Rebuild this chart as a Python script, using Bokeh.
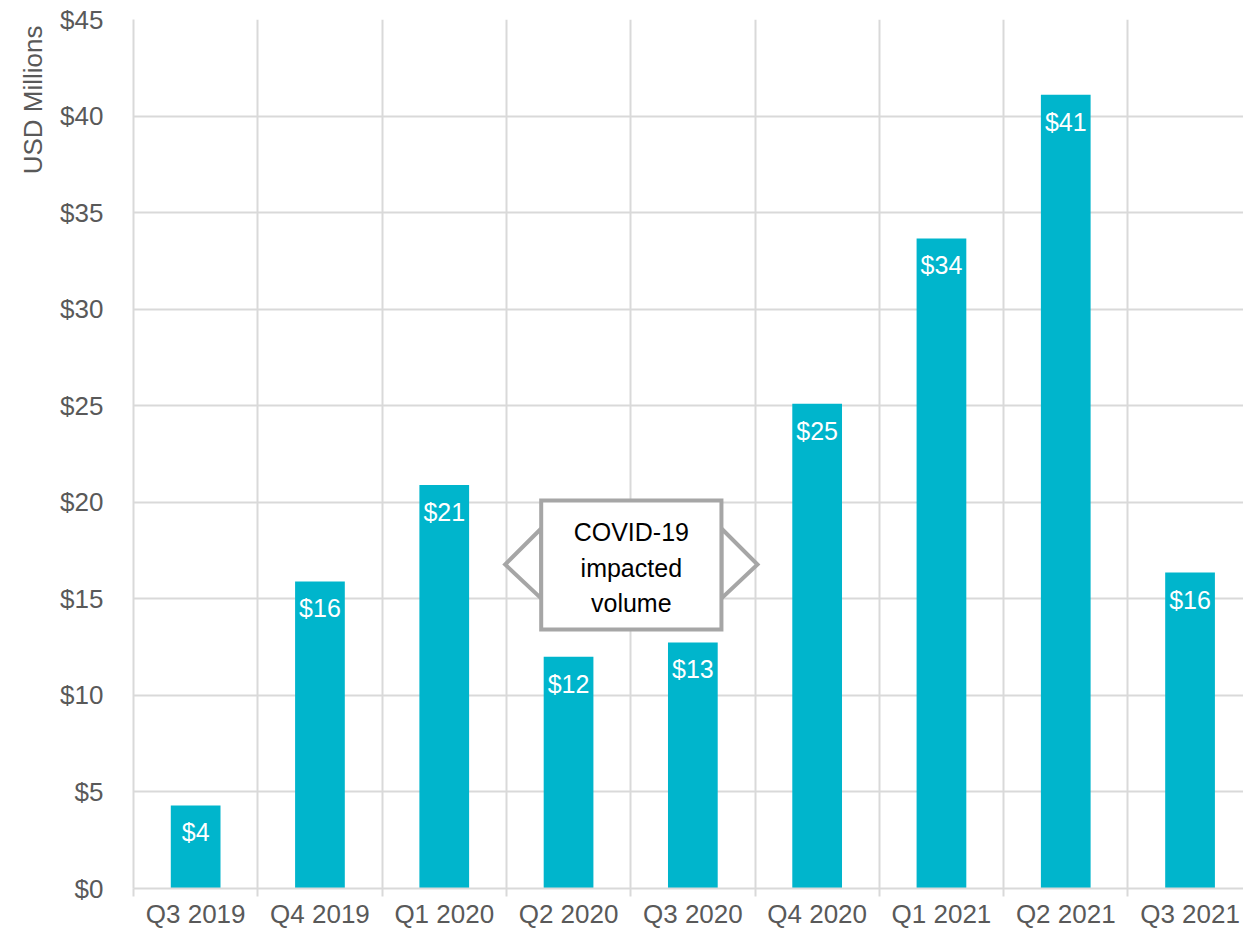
from bokeh.plotting import figure
from bokeh.models import Range1d, FixedTicker, NumeralTickFormatter, ColumnDataSource, Title
from bokeh.core.properties import value
from bokeh.embed import file_html
from bokeh.resources import INLINE

quarters = ["Q3 2019", "Q4 2019", "Q1 2020", "Q2 2020", "Q3 2020",
            "Q4 2020", "Q1 2021", "Q2 2021", "Q3 2021"]
volume = [4.3, 15.9, 20.9, 12.0, 12.74, 25.1, 33.66, 41.1, 16.36]
y_ticks = [0, 5, 10, 15, 20, 25, 30, 35, 40, 45]
callout_lines = ["COVID-19", "impacted", "volume"]

FONT = "Liberation Sans"
BAR = "#00B5CC"
GRID = "#D9D9D9"
TXT = "#595959"

xs = list(range(len(quarters)))
bounds = [i - 0.5 for i in range(len(quarters) + 1)]
labels = ["$" + str(int(round(v))) for v in volume]

p = figure(width=1243, height=931, output_backend="svg", toolbar_location=None,
           x_range=Range1d(-0.5, 8.43), y_range=Range1d(0, 45),
           min_border_left=133, min_border_right=0, min_border_top=19, min_border_bottom=43)
p.outline_line_color = None
p.background_fill_color = "white"
p.border_fill_color = "white"

src = ColumnDataSource(dict(x=xs, top=volume, lab=labels))
p.vbar(x="x", top="top", width=0.4, bottom=0, source=src, fill_color=BAR, line_color=None)
p.text(x="x", y="top", text="lab", source=src, text_align="center", text_baseline="middle",
       y_offset=27, text_color="white", text_font=value(FONT), text_font_size="25px")

# x axis
p.xaxis.ticker = FixedTicker(ticks=xs, minor_ticks=bounds)
p.xaxis.major_label_overrides = {i: q for i, q in enumerate(quarters)}
p.xaxis.major_tick_out = 0
p.xaxis.major_tick_in = 0
p.xaxis.minor_tick_out = 8
p.xaxis.minor_tick_in = 0
p.xaxis.minor_tick_line_color = GRID
p.xaxis.minor_tick_line_width = 2
p.xaxis.axis_line_color = GRID
p.xaxis.axis_line_width = 2
p.xaxis.major_label_standoff = 2
p.xaxis.major_label_text_font = FONT
p.xaxis.major_label_text_font_size = "26px"
p.xaxis.major_label_text_color = TXT

# y axis
p.yaxis.ticker = FixedTicker(ticks=y_ticks)
p.yaxis.formatter = NumeralTickFormatter(format="$0")
p.yaxis.major_tick_out = 0
p.yaxis.major_tick_in = 0
p.yaxis.minor_tick_out = 0
p.yaxis.minor_tick_in = 0
p.yaxis.axis_line_color = GRID
p.yaxis.axis_line_width = 2
p.yaxis.major_label_standoff = 30
p.yaxis.major_label_text_font = FONT
p.yaxis.major_label_text_font_size = "26px"
p.yaxis.major_label_text_color = TXT

p.xgrid.ticker = FixedTicker(ticks=bounds)
p.xgrid.grid_line_color = GRID
p.xgrid.grid_line_width = 2
p.ygrid.ticker = FixedTicker(ticks=y_ticks)
p.ygrid.grid_line_color = GRID
p.ygrid.grid_line_width = 2

p.add_layout(Title(text="USD Millions", align="right", text_font=FONT, text_font_size="26px",
                   text_font_style="normal", text_color=TXT, offset=6, standoff=20), "left")

# callout between Q2 and Q3 2020
bx0, bx1, by0, by1 = 2.78, 4.23, 13.41, 20.09
tip_l, tip_r, cy_top, cy_mid, cy_bot = 2.49, 4.52, 18.64, 16.78, 15.02
p.patches(xs=[[bx0, tip_l, bx0], [bx1, tip_r, bx1]],
          ys=[[cy_top, cy_mid, cy_bot], [cy_top, cy_mid, cy_bot]],
          fill_color="white", line_color="#A6A6A6", line_width=4, line_join="miter")
p.quad(left=bx0, right=bx1, bottom=by0, top=by1, fill_color="white",
       line_color="#A6A6A6", line_width=4, line_join="miter")
p.text(x=[(bx0 + bx1) / 2], y=[16.62], text=["\n".join(callout_lines)], text_align="center",
       text_baseline="middle", text_color="black", text_font=value(FONT),
       text_font_size="25px", text_line_height=1.26)

open("out.html", "w").write(file_html(p, INLINE))
